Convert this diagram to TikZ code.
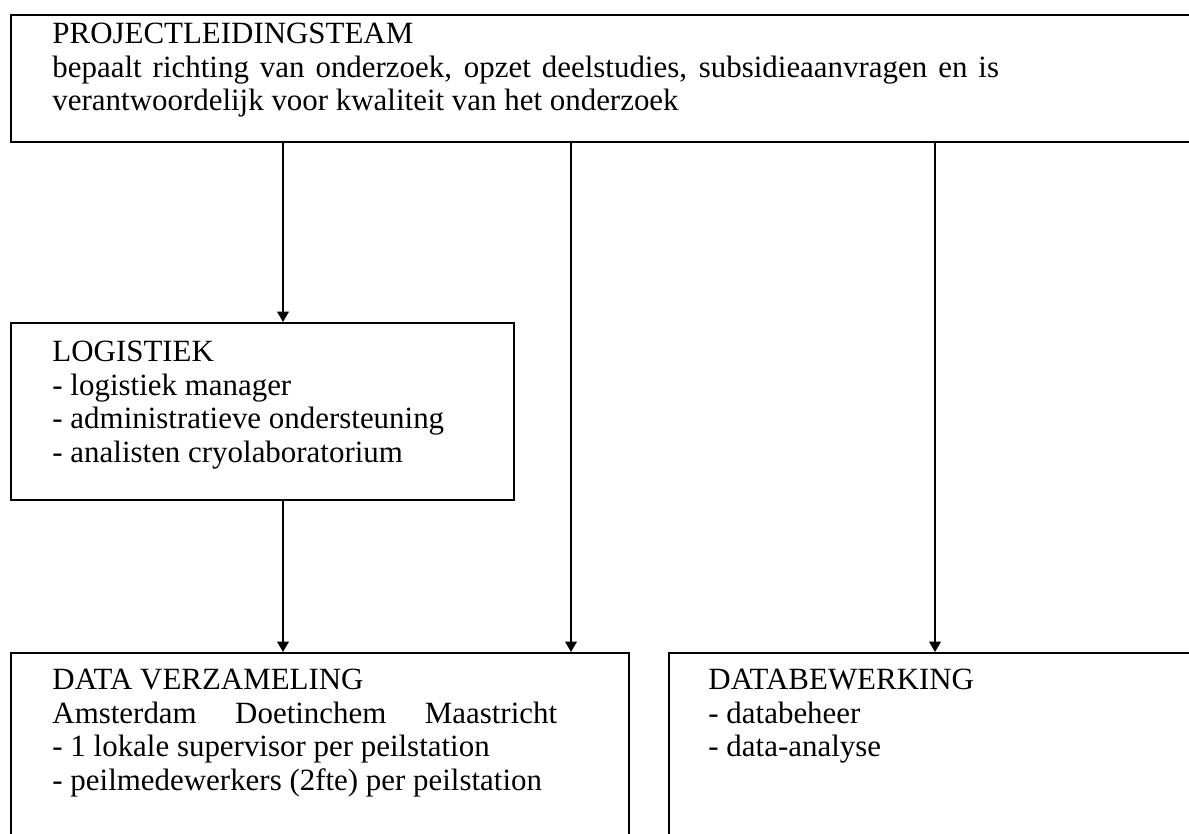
\documentclass[tikz,border=0pt]{standalone}
\usepackage{fontspec}
\setmainfont{Liberation Serif}
\usetikzlibrary{arrows.meta}

\begin{document}
\begin{tikzpicture}[x=0.43pt,y=-0.43pt,
	blok/.style={draw, line width=0.8pt, anchor=north west, inner sep=0pt},
	tekst/.style={anchor=north west, inner sep=0pt, align=left, font=\fontsize{13.3}{14.4}\selectfont},
	pijl/.style={-{Triangle[length=4.5pt,width=5pt]}, line width=0.8pt}]
\clip (0,0) rectangle (1189,834);
% kaders
\node [blok, minimum width=511.7pt, minimum height=54.6pt] (team) at (10,14) {};
\node [blok, minimum width=216.3pt, minimum height=76.1pt] (logistiek) at (10,322) {};
\node [blok, minimum width=265.7pt, minimum height=89.4pt] (verzameling) at (10,652) {};
\node [blok, minimum width=228.8pt, minimum height=89.4pt] (bewerking) at (668,652) {};
% teksten
\node [tekst] (teamtekst) at (52,23) {PROJECTLEIDINGSTEAM\\
	\hbox to 407pt{bepaalt richting van onderzoek, opzet deelstudies, subsidieaanvragen en is}\\
	verantwoordelijk voor kwaliteit van het onderzoek};
\node [tekst] (logistiektekst) at (52,341) {LOGISTIEK\\
	- logistiek manager\\
	- administratieve ondersteuning\\
	- analisten cryolaboratorium};
\node [tekst] (verzamelingtekst) at (52,669) {DATA VERZAMELING\\
	\hbox to 217pt{Amsterdam\hfill Doetinchem\hfill Maastricht}\\
	- 1 lokale supervisor per peilstation\\
	- peilmedewerkers (2fte) per peilstation};
\node [tekst] (bewerkingtekst) at (708,669) {DATABEWERKING\\
	- databeheer\\
	- data-analyse};
% pijlen
\coordinate (k1) at (283,0);
\coordinate (k2) at (571,0);
\coordinate (k3) at (935,0);
\draw [pijl] (team.south -| k1) -- (logistiek.north -| k1);
\draw [pijl] (logistiek.south -| k1) -- (verzameling.north -| k1);
\draw [pijl] (team.south -| k2) -- (verzameling.north -| k2);
\draw [pijl] (team.south -| k3) -- (bewerking.north -| k3);
\end{tikzpicture}
\end{document}
